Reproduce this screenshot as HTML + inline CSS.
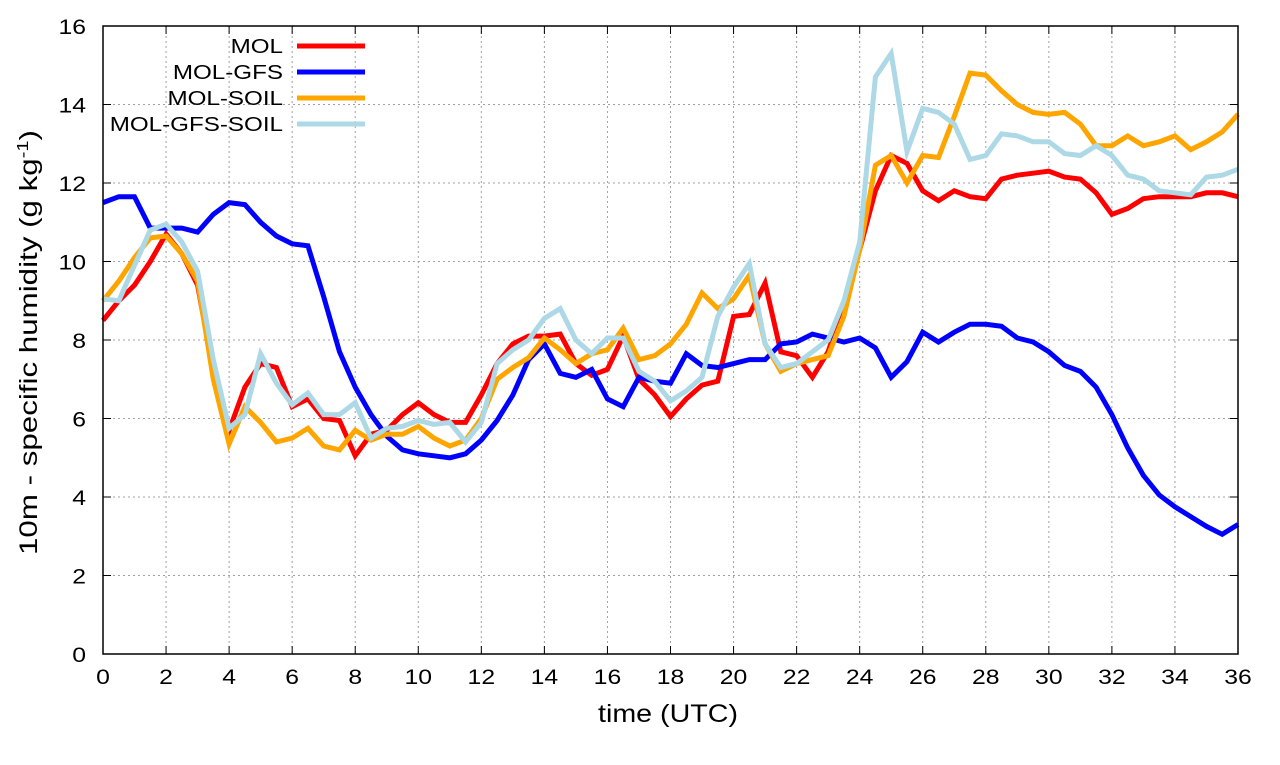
<!DOCTYPE html>
<html><head><meta charset="utf-8"><style>
body{margin:0;background:#fff;font-family:"Liberation Sans",sans-serif}
</style></head><body>
<svg id="chart" width="1280" height="760" xmlns="http://www.w3.org/2000/svg" font-family="Liberation Sans, sans-serif"></svg>
<script>
const xTicks=[0,2,4,6,8,10,12,14,16,18,20,22,24,26,28,30,32,34,36];
const yTicks=[0,2,4,6,8,10,12,14,16];
const seriesNames=["MOL","MOL-GFS","MOL-SOIL","MOL-GFS-SOIL"];
const seriesColors=["#ff0000","#0000ff","#ffa500","#add8e6"];
const mol=[8.5,9.0,9.4,10.0,10.7,10.2,9.4,7.2,5.7,6.8,7.4,7.3,6.3,6.5,6.0,5.95,5.05,5.6,5.7,6.1,6.4,6.1,5.9,5.9,6.6,7.4,7.9,8.1,8.1,8.15,7.4,7.1,7.25,8.1,7.0,6.6,6.05,6.5,6.85,6.95,8.6,8.65,9.45,7.7,7.6,7.05,7.7,8.9,10.3,11.8,12.7,12.5,11.8,11.55,11.8,11.65,11.6,12.1,12.2,12.25,12.3,12.15,12.1,11.75,11.2,11.35,11.6,11.65,11.65,11.65,11.75,11.75,11.65];
const molGfs=[11.5,11.65,11.65,10.85,10.85,10.85,10.75,11.2,11.5,11.45,11.0,10.65,10.45,10.4,9.1,7.7,6.8,6.1,5.55,5.2,5.1,5.05,5.0,5.1,5.45,5.95,6.6,7.5,7.9,7.15,7.05,7.25,6.5,6.3,7.05,6.95,6.9,7.65,7.35,7.3,7.4,7.5,7.5,7.9,7.95,8.15,8.05,7.95,8.05,7.8,7.05,7.45,8.2,7.95,8.2,8.4,8.4,8.35,8.05,7.95,7.7,7.35,7.2,6.8,6.1,5.25,4.55,4.05,3.75,3.5,3.25,3.05,3.3];
const molSoil=[9.0,9.5,10.1,10.6,10.65,10.2,9.5,7.0,5.35,6.3,5.9,5.4,5.5,5.75,5.3,5.2,5.7,5.45,5.6,5.6,5.8,5.5,5.3,5.45,6.0,7.0,7.3,7.55,8.05,7.75,7.4,7.65,7.75,8.3,7.5,7.6,7.9,8.4,9.2,8.8,9.05,9.65,7.9,7.2,7.4,7.5,7.6,8.6,10.3,12.45,12.7,12.0,12.7,12.65,13.7,14.8,14.75,14.35,14.0,13.8,13.75,13.8,13.5,12.95,12.95,13.2,12.95,13.05,13.2,12.85,13.05,13.3,13.75];
const molGfsSoil=[9.05,9.0,9.9,10.8,10.95,10.5,9.75,7.5,5.75,6.1,7.65,6.9,6.35,6.65,6.1,6.1,6.4,5.5,5.75,5.8,5.95,5.85,5.9,5.4,5.9,7.4,7.75,8.0,8.55,8.8,8.0,7.65,8.05,8.05,7.2,6.95,6.45,6.7,7.05,8.6,9.35,9.95,7.9,7.3,7.4,7.7,8.0,9.0,10.5,14.7,15.3,12.8,13.9,13.8,13.5,12.6,12.7,13.25,13.2,13.05,13.05,12.75,12.7,12.95,12.7,12.2,12.1,11.8,11.75,11.7,12.15,12.2,12.35];
const timeStep=0.5;
const X0=103,X1=1238,Y0=654,Y1=26;
const SX=1.18;
const sx=v=>X0+(v-0)/(36-0)*(X1-X0);
const sy=v=>Y0-(v-0)/(16-0)*(Y0-Y1);
const svg=document.getElementById('chart');
const NS="http://www.w3.org/2000/svg";
function mk(tag,attrs,parent){const e=document.createElementNS(NS,tag);for(const k in attrs)e.setAttribute(k,attrs[k]);(parent||svg).appendChild(e);return e;}
function txt(x,y,anchor,size,parent){return mk('text',{x:0,y:0,'text-anchor':anchor,'font-size':size,transform:'translate('+x+','+y+') scale('+SX+',1)'},parent);}
const grid=mk('g',{});


xTicks.forEach(t=>{
  if(t>0&&t<36){const l=mk('line',{x1:sx(t),x2:sx(t),y1:Y1,y2:Y0,stroke:'#a0a0a0','stroke-dasharray':'2,3','stroke-width':1},grid);
  
  }
  mk('line',{x1:sx(t),x2:sx(t),y1:Y0,y2:Y0-8,stroke:'#000'},grid);
  mk('line',{x1:sx(t),x2:sx(t),y1:Y1,y2:Y1+8,stroke:'#000'},grid);
  const tx=txt(sx(t),Y0+30,'middle',21);
  tx.textContent=t;
  
  
});
yTicks.forEach(t=>{
  if(t>0&&t<16){const l=mk('line',{x1:X0,x2:X1,y1:sy(t),y2:sy(t),stroke:'#a0a0a0','stroke-dasharray':'2,3','stroke-width':1},grid);
  
  }
  mk('line',{x1:X0,x2:X0+8,y1:sy(t),y2:sy(t),stroke:'#000'},grid);
  mk('line',{x1:X1,x2:X1-8,y1:sy(t),y2:sy(t),stroke:'#000'},grid);
  const tx=txt(X0-17,sy(t)+8,'end',21);
  tx.textContent=t;
  
  
});
const data=[mol,molGfs,molSoil,molGfsSoil];
const slugs=['mol','mol-gfs','mol-soil','mol-gfs-soil'];
data.forEach((arr,i)=>{
  const pts=arr.map((v,j)=>sx(j*timeStep).toFixed(1)+','+sy(v).toFixed(1)).join(' ');
  const p=mk('polyline',{points:pts,fill:'none',stroke:seriesColors[i],'stroke-width':5,'stroke-linejoin':'miter'});
  
  
});
const frame=mk('rect',{x:X0,y:Y1,width:X1-X0,height:Y0-Y1,fill:'none',stroke:'#000','stroke-width':1.5});


seriesNames.forEach((n,i)=>{
  const y=46+i*26;
  const g=mk('g',{});
  
  
  const t=txt(283,y+7,'end',20.5,g);t.textContent=n;
  mk('line',{x1:297,x2:365,y1:y,y2:y,stroke:seriesColors[i],'stroke-width':5},g);
});
const xt=mk('text',{x:598,y:722,'font-size':25,textLength:140,lengthAdjust:'spacingAndGlyphs'});
xt.textContent='time (UTC)';


const yt=mk('text',{x:0,y:0,'font-size':25,transform:'translate(37,555) rotate(-90)'});
yt.innerHTML='10m - specific humidity (g kg<tspan dy="-9" font-size="16">-1</tspan><tspan dy="9">)</tspan>';


const bb=yt.getBBox();
if(bb.width>0){yt.setAttribute('transform','translate(37,555) rotate(-90) scale('+(425/bb.width)+',1)');}
</script>
</body></html>
